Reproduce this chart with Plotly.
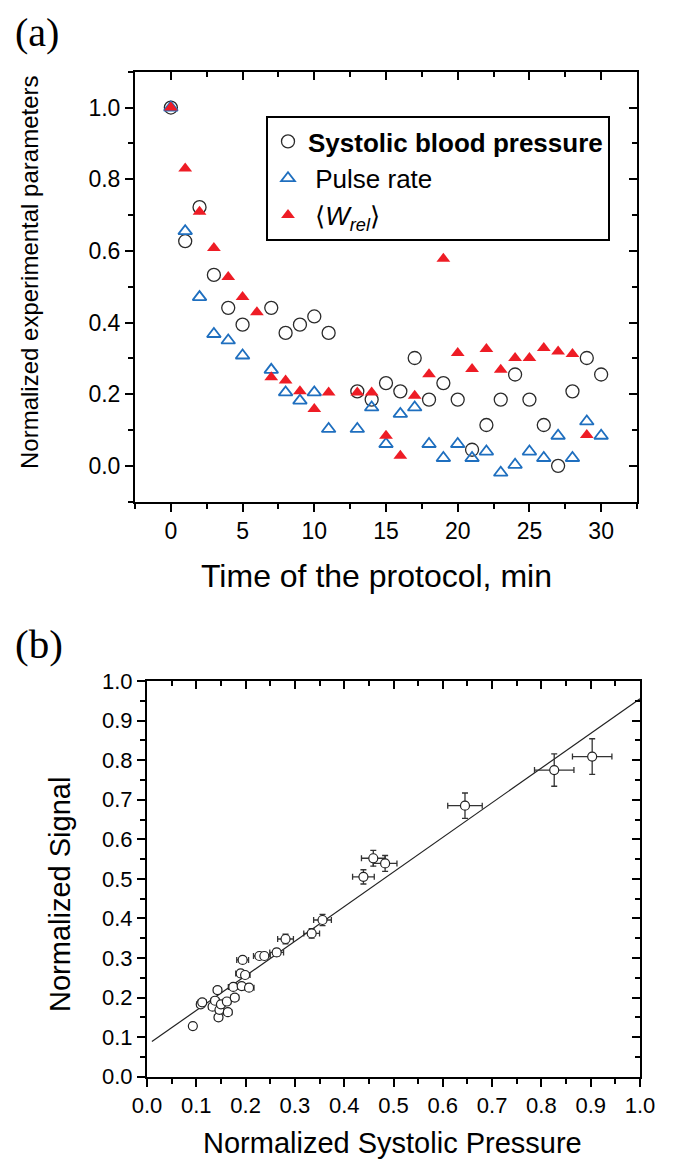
import plotly.graph_objects as go

# ---------------- Panel (a) data ----------------
time_min = list(range(0, 31))
# None = no point at that minute
systolic = [1.00, 0.627, 0.722, 0.533, 0.441, 0.394, None, 0.441, 0.371, 0.394, 0.417,
            0.371, None, 0.208, 0.185, 0.231, 0.208, 0.301, 0.185, 0.231, 0.185,
            0.045, 0.114, 0.185, 0.255, 0.185, 0.114, 0.000, 0.208, 0.301, 0.255]
pulse = [1.00, 0.655, 0.471, 0.368, 0.350, 0.308, None, 0.268, 0.205, 0.182, 0.205,
         0.103, None, 0.103, 0.163, 0.061, 0.145, 0.163, 0.061, 0.022, 0.061,
         0.022, 0.040, -0.019, 0.003, 0.040, 0.022, 0.084, 0.022, 0.124, 0.084]
w_rel = [1.00, 0.830, 0.709, 0.608, 0.527, 0.471, 0.429, 0.247, 0.238, 0.208, 0.159,
         0.205, None, 0.205, 0.205, 0.084, 0.028, 0.196, 0.256, 0.578, 0.315,
         0.270, 0.326, 0.268, 0.301, 0.301, 0.329, 0.319, 0.312, 0.086, None]

# ---------------- Panel (b) data ----------------
sys_pressure = [0.093, 0.109, 0.112, 0.133, 0.138, 0.143, 0.145, 0.147, 0.150, 0.162,
                0.164, 0.178, 0.175, 0.192, 0.207, 0.190, 0.199, 0.194, 0.228, 0.238,
                0.263, 0.281, 0.334, 0.356, 0.439, 0.459, 0.483, 0.645, 0.826, 0.903]
signal = [0.128, 0.183, 0.188, 0.177, 0.192, 0.219, 0.150, 0.169, 0.183, 0.190,
          0.163, 0.200, 0.227, 0.229, 0.225, 0.261, 0.257, 0.295, 0.305, 0.305,
          0.314, 0.348, 0.362, 0.396, 0.505, 0.552, 0.539, 0.685, 0.775, 0.809]
err_x = [0.006, 0.008, 0.008, 0.008, 0.008, 0.008, 0.008, 0.008, 0.008, 0.008,
         0.008, 0.008, 0.010, 0.010, 0.010, 0.010, 0.010, 0.012, 0.012, 0.012,
         0.014, 0.016, 0.016, 0.018, 0.022, 0.024, 0.024, 0.035, 0.040, 0.040]
err_y = [0.005, 0.006, 0.006, 0.006, 0.006, 0.007, 0.006, 0.006, 0.006, 0.006,
         0.006, 0.006, 0.007, 0.007, 0.007, 0.008, 0.008, 0.008, 0.008, 0.008,
         0.009, 0.012, 0.012, 0.014, 0.018, 0.020, 0.020, 0.032, 0.041, 0.045]
fit_intercept = 0.08
fit_slope = 0.875
fit_x = [0.01, 1.0]
fit_y = [fit_intercept + fit_slope * v for v in fit_x]

# The page body has an 8px default margin, so the figure is shifted by 8px;
# shrink it so it still fits in the 678x1163 window.
PAGE_W, PAGE_H = 678, 1163
OFF = 8
W, H = PAGE_W - OFF, PAGE_H - OFF
FONT = "Liberation Sans"

def px_x(p):
    return (p - OFF) / W

def px_y(p):
    return 1 - (p - OFF) / H

# domains from pixel boxes (in page pixels)
a_xd = [px_x(135), px_x(637)]
a_yd = [px_y(501.7), px_y(71.7)]
b_xd = [px_x(147), px_x(640)]
b_yd = [px_y(1076.7), px_y(681)]

fig = go.Figure()

# Panel (a) traces
fig.add_trace(go.Scatter(
    x=time_min, y=systolic, mode="markers", name="<b>Systolic blood pressure</b>",
    marker=dict(symbol="circle-open", size=13, color="#2b2b2b", line=dict(width=1.3)),
    xaxis="x", yaxis="y"))
fig.add_trace(go.Scatter(
    x=time_min, y=pulse, mode="markers", name=" Pulse rate",
    marker=dict(symbol="triangle-up-open", size=12, color="#1f6fbf", line=dict(width=1.8)),
    xaxis="x", yaxis="y"))
fig.add_trace(go.Scatter(
    x=time_min, y=w_rel, mode="markers",
    name=" \u27e8<i>W</i><sub><i>rel</i></sub>\u27e9",
    marker=dict(symbol="triangle-up", size=12, color="#ee1c25", line=dict(width=0)),
    xaxis="x", yaxis="y"))

# Panel (b) traces
fig.add_trace(go.Scatter(
    x=fit_x, y=fit_y, mode="lines", line=dict(color="#222222", width=1.2),
    showlegend=False, xaxis="x2", yaxis="y2"))
fig.add_trace(go.Scatter(
    x=sys_pressure, y=signal, mode="markers", showlegend=False,
    marker=dict(symbol="circle", size=9, color="white", line=dict(color="#222222", width=1.2)),
    error_x=dict(type="data", array=err_x, color="#333333", thickness=1.3, width=3),
    error_y=dict(type="data", array=err_y, color="#333333", thickness=1.3, width=3),
    xaxis="x2", yaxis="y2"))

# empty traces to activate inward-tick frame axes
for xa, ya in [("x3", "y3"), ("x4", "y4")]:
    fig.add_trace(go.Scatter(x=[], y=[], showlegend=False, hoverinfo="skip",
                             xaxis=xa, yaxis=ya))

def main_axis(domain, rng, dtick, minor_dtick, anchor, size, tick0=0, fmt=None):
    d = dict(domain=domain, range=rng, anchor=anchor, showgrid=False, zeroline=False,
             automargin=False, fixedrange=True,
             showline=True, linecolor="black", linewidth=2,
             ticks="outside", ticklen=8, tickwidth=2, tickcolor="black",
             tick0=tick0, dtick=dtick,
             tickfont=dict(family=FONT, size=size, color="black"),
             minor=dict(dtick=minor_dtick, tick0=tick0, ticks="outside", ticklen=5,
                        tickwidth=2, tickcolor="black", showgrid=False))
    if fmt:
        d["tickformat"] = fmt
    return d

def frame_axis(domain, rng, dtick, minor_dtick, overlay, anchor, side, tick0=0):
    return dict(domain=domain, range=rng, overlaying=overlay, anchor=anchor, side=side,
                automargin=False, fixedrange=True,
                showgrid=False, zeroline=False, showline=True, linecolor="black",
                linewidth=2, ticks="inside", ticklen=8, tickwidth=2, tickcolor="black",
                tick0=tick0, dtick=dtick, showticklabels=False,
                minor=dict(dtick=minor_dtick, tick0=tick0, ticks="inside", ticklen=5,
                           tickwidth=2, tickcolor="black", showgrid=False))

a_xr = [-2.5, 32.5]
a_yr = [-0.1, 1.1]
b_r = [0, 1]

fig.update_layout(
    template="none",
    width=W, height=H, margin=dict(l=0, r=0, t=0, b=0, autoexpand=False),
    paper_bgcolor="white", plot_bgcolor="white",
    font=dict(family=FONT, color="black"),
    xaxis=main_axis(a_xd, a_xr, 5, 2.5, "y", 23),
    yaxis=main_axis(a_yd, a_yr, 0.2, 0.1, "x", 23, fmt=".1f"),
    xaxis2=main_axis(b_xd, b_r, 0.1, 0.05, "y2", 22, fmt=".1f"),
    yaxis2=main_axis(b_yd, b_r, 0.1, 0.05, "x2", 22, fmt=".1f"),
    xaxis3=frame_axis(a_xd, a_xr, 5, 2.5, "x", "y3", "top"),
    yaxis3=frame_axis(a_yd, a_yr, 0.2, 0.1, "y", "x3", "right"),
    xaxis4=frame_axis(b_xd, b_r, 0.1, 0.05, "x2", "y4", "top"),
    yaxis4=frame_axis(b_yd, b_r, 0.1, 0.05, "y2", "x4", "right"),
    legend=dict(x=px_x(266), y=px_y(116), xanchor="left", yanchor="top",
                bordercolor="black", borderwidth=2, bgcolor="white",
                font=dict(family=FONT, size=26, color="black"),
                tracegroupgap=3, itemwidth=30),
    showlegend=True,
)

ann = [
    dict(text="(a)", x=px_x(37), y=1.0, yanchor="top",
         font=dict(family="Liberation Serif", size=40)),
    dict(text="(b)", x=px_x(39), y=px_y(644), font=dict(family="Liberation Serif", size=41)),
    dict(text="Normalized experimental parameters", x=px_x(30), y=px_y(272),
         textangle=-90, font=dict(family=FONT, size=24)),
    dict(text="Time of the protocol, min", x=px_x(376), y=px_y(576),
         font=dict(family=FONT, size=32)),
    dict(text="Normalized Signal", x=px_x(60), y=px_y(895), textangle=-90,
         font=dict(family=FONT, size=29)),
    dict(text="Normalized Systolic Pressure", x=px_x(392), y=px_y(1143),
         font=dict(family=FONT, size=29)),
]
for a in ann:
    a.setdefault("yanchor", "middle")
    a.update(xref="paper", yref="paper", showarrow=False, xanchor="center")
    a["font"]["color"] = "black"
fig.update_layout(annotations=ann)

fig.write_html("out.html")
